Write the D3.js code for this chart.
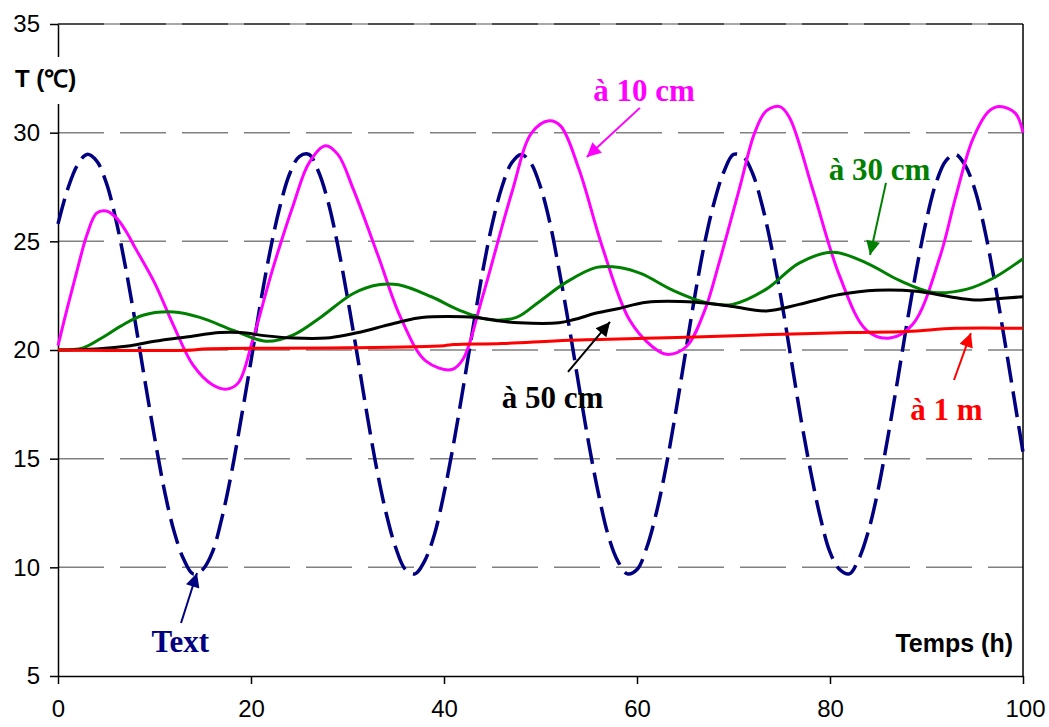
<!DOCTYPE html>
<html>
<head>
<meta charset="utf-8">
<script src="https://cdn.jsdelivr.net/npm/d3@7"></script>
<style>
  html, body { margin: 0; padding: 0; background: #fff; }
  svg { display: block; }
</style>
</head>
<body>
<svg id="chart" width="1049" height="727"></svg>
<script>
// ---------------- DATA ----------------
const yTicks = [5, 10, 15, 20, 25, 30, 35];
const xTicks = [0, 20, 40, 60, 80, 100];

// Air temperature (Text), hourly 0..100
const textHours = d3.range(0, 101);
const textValues = [25.8,27.4,28.5,29.0,28.7,27.7,26.0,23.8,21.3,18.6,16.0,13.6,11.7,10.4,9.7,9.9,10.7,12.3,14.4,16.9,
  19.5,22.2,24.6,26.6,28.1,28.9,29.0,28.2,26.8,24.8,22.4,19.8,17.1,14.6,12.5,10.9,9.9,9.7,10.3,11.5,
  13.4,15.7,18.3,21.0,23.6,25.8,27.5,28.6,29.0,28.6,27.5,25.8,23.5,21.0,18.3,15.7,13.4,11.5,10.3,9.7,
  9.9,10.9,12.5,14.6,17.1,19.8,22.5,24.9,26.8,28.2,29.0,28.9,28.1,26.6,24.6,22.2,19.5,16.8,14.4,12.3,
  10.7,9.9,9.7,10.4,11.7,13.6,16.0,18.6,21.3,23.8,26.0,27.7,28.7,29.0,28.5,27.4,25.6,23.3,20.7,18.0,15.3];

// à 10 cm
const t10Hours = [0,1,2,3,4,5,6,7,8,10,12,14,16,17.5,18.7,20.2,22.3,24.4,26,27.7,29,30.6,33.2,35.5,38.1,40.8,42,43.9,47,49.1,50.9,52.1,54,56.4,59.2,61.6,63.1,65.1,67,68.5,70.6,72.2,73.4,74.8,75.8,78.2,81,83.8,86.2,88.6,91.4,93,94.8,96.5,97.6,99.2,100];
const t10Values = [20.2,22.0,23.7,25.3,26.3,26.4,26.1,25.5,24.7,23.1,21.1,19.3,18.4,18.2,18.5,20.5,23.8,26.7,28.6,29.4,29.0,27.4,24.3,21.5,19.5,19.1,19.6,22.3,27.2,30.0,30.55,30.3,28.3,24.75,21.4,20.15,19.8,20.15,21.8,24.0,27.4,30.0,31.0,31.2,30.7,27.4,23.4,20.9,20.55,21.2,24.3,27.0,29.7,31.0,31.2,30.9,30.0];

// à 30 cm
const t30Hours = [0,2.6,4.7,6.5,8.8,12,14.7,18.2,21.6,24.4,27.2,30.6,33.2,35.3,38.7,41.5,44.6,47.5,49.8,52.6,55.8,58.2,60.5,63.7,67,69.9,73.4,76.8,80.3,83.8,87.2,90.7,94.2,96.9,100];
const t30Values = [20.0,20.1,20.6,21.1,21.6,21.75,21.5,20.9,20.4,20.7,21.5,22.6,23.0,23.0,22.45,21.85,21.4,21.5,22.2,23.1,23.8,23.8,23.5,22.75,22.2,22.1,22.8,24.0,24.5,24.0,23.2,22.65,22.8,23.3,24.2];

// à 50 cm
const t50Hours = [0,4,7.5,10,13.3,16.8,18.9,21.6,24.4,27.8,30,32,33.7,35.5,37.7,43.3,45.5,47.8,51.9,53.5,55.8,58,61,66.1,69.9,73.4,76.8,81,84.8,89,92.4,95,96.9,100];
const t50Values = [20.0,20.05,20.2,20.4,20.6,20.8,20.8,20.65,20.55,20.55,20.7,20.9,21.1,21.3,21.5,21.5,21.35,21.25,21.25,21.4,21.7,21.9,22.2,22.2,22.0,21.8,22.1,22.55,22.75,22.7,22.45,22.3,22.35,22.45];

// à 1 m
const t100Hours = [0,14,15,30,40,41,46,53,62,66,73,82,88,93,100];
const t100Values = [20.0,20.0,20.05,20.1,20.2,20.25,20.3,20.45,20.55,20.6,20.7,20.8,20.85,21.0,21.0];

// annotations (label position, arrow tail, arrow tip) in data units
const annLabels = ["Text", "à 10 cm", "à 30 cm", "à 50 cm", "à 1 m"];
const annLabelPos = [[12.67,6.10],[60.73,31.46],[85.13,27.82],[51.24,17.33],[92.07,16.78]];
const annTail = [[12.75,7.44],[60.3,31.14],[85.8,27.69],[52.85,18.99],[92.85,18.62]];
const annTip = [[14.4,9.74],[54.8,28.88],[84.15,24.37],[57.2,21.29],[94.6,20.78]];
const annColors = ["#000080","#FF00FF","#008000","#000000","#FF0000"];

// ---------------- CHART ----------------
const svg = d3.select("#chart");
const x = d3.scaleLinear().domain([0, 100]).range([58, 1023]);
const y = d3.scaleLinear().domain([5, 35]).range([676, 24]);

// gridlines
const grid = svg.append("g");
grid.selectAll("line.g").data(yTicks.filter(v => v > 5 && v < 35)).join("line")
  .attr("x1", x(0)).attr("x2", x(100))
  .attr("y1", d => y(d)).attr("y2", d => y(d))
  .attr("stroke", "#808080").attr("stroke-width", 1.5)
  .attr("stroke-dasharray", "46,16");
// top border line
grid.append("line").attr("x1", x(0)).attr("x2", x(100)).attr("y1", y(35)).attr("y2", y(35))
  .attr("stroke", "#8a8a8a").attr("stroke-width", 1.5);
grid.append("line").attr("x1", x(0)).attr("x2", x(100)).attr("y1", y(35)).attr("y2", y(35))
  .attr("stroke", "#333").attr("stroke-width", 1.5).attr("stroke-dasharray", "46,16");
// right border
grid.append("line").attr("x1", x(100)).attr("x2", x(100)).attr("y1", y(35)).attr("y2", y(5))
  .attr("stroke", "#000").attr("stroke-width", 1.5);

// axes
const yAxis = svg.append("g").attr("transform", `translate(${x(0)},0)`)
  .call(d3.axisLeft(y).tickValues(yTicks).tickSize(8).tickPadding(10).tickSizeOuter(0));
const xAxis = svg.append("g").attr("transform", `translate(0,${y(5)})`)
  .call(d3.axisBottom(x).tickValues(xTicks).tickSize(8).tickPadding(16).tickSizeOuter(0));
[yAxis, xAxis].forEach(a => {
  a.select(".domain").attr("stroke", "#000").attr("stroke-width", 1.5);
  a.selectAll(".tick line").attr("stroke", "#000").attr("stroke-width", 1.5);
  a.selectAll(".tick text").attr("font-family", "Arial, 'Liberation Sans', sans-serif")
    .attr("font-size", 24).attr("fill", "#000");
});
xAxis.selectAll(".tick text").filter(d => d === 100).attr("dx", 2);

// axis titles
svg.append("rect").attr("x", 10).attr("y", 57).attr("width", 72).attr("height", 47).attr("fill", "#fff");
svg.append("text").attr("x", 15).attr("y", 87)
  .attr("font-family", "Arial, 'Liberation Sans', sans-serif").attr("font-weight", "bold")
  .attr("font-size", 24).text("T (\u2103)");
svg.append("text").attr("x", 1013).attr("y", 652).attr("text-anchor", "end")
  .attr("font-family", "Arial, 'Liberation Sans', sans-serif").attr("font-weight", "bold")
  .attr("font-size", 25).text("Temps (h)");

// lines
const line = d3.line().x(d => x(d[0])).y(d => y(d[1])).curve(d3.curveCatmullRom);
const zip = (a, b) => a.map((v, i) => [v, b[i]]);
const series = [
  { data: zip(textHours, textValues), color: "#000080", w: 3.5, dash: "26,9" },
  { data: zip(t10Hours, t10Values), color: "#FF00FF", w: 3, dash: null },
  { data: zip(t30Hours, t30Values), color: "#008000", w: 3, dash: null },
  { data: zip(t50Hours, t50Values), color: "#000000", w: 3, dash: null },
  { data: zip(t100Hours, t100Values), color: "#FF0000", w: 3, dash: null }
];
svg.append("g").selectAll("path").data(series).join("path")
  .attr("d", d => line(d.data))
  .attr("fill", "none")
  .attr("stroke", d => d.color)
  .attr("stroke-width", d => d.w)
  .attr("stroke-linejoin", "round")
  .attr("stroke-dasharray", d => d.dash);

// arrow markers
const defs = svg.append("defs");
annColors.forEach((c, i) => {
  defs.append("marker").attr("id", "arr" + i)
    .attr("viewBox", "0 0 10 10").attr("refX", 10).attr("refY", 5)
    .attr("markerWidth", 8).attr("markerHeight", 7).attr("markerUnits", "strokeWidth")
    .attr("orient", "auto")
    .append("path").attr("d", "M0,0 L10,5 L0,10 Z").attr("fill", c);
});

// annotations
const ann = svg.append("g");
annLabels.forEach((lab, i) => {
  ann.append("line")
    .attr("x1", x(annTail[i][0])).attr("y1", y(annTail[i][1]))
    .attr("x2", x(annTip[i][0])).attr("y2", y(annTip[i][1]))
    .attr("stroke", annColors[i]).attr("stroke-width", 2)
    .attr("marker-end", `url(#arr${i})`);
  ann.append("text")
    .attr("x", x(annLabelPos[i][0])).attr("y", y(annLabelPos[i][1]))
    .attr("text-anchor", "middle")
    .attr("font-family", "'Times New Roman', 'Liberation Serif', serif")
    .attr("font-weight", "bold").attr("font-size", 31)
    .attr("fill", annColors[i]).text(lab);
});
</script>
</body>
</html>
